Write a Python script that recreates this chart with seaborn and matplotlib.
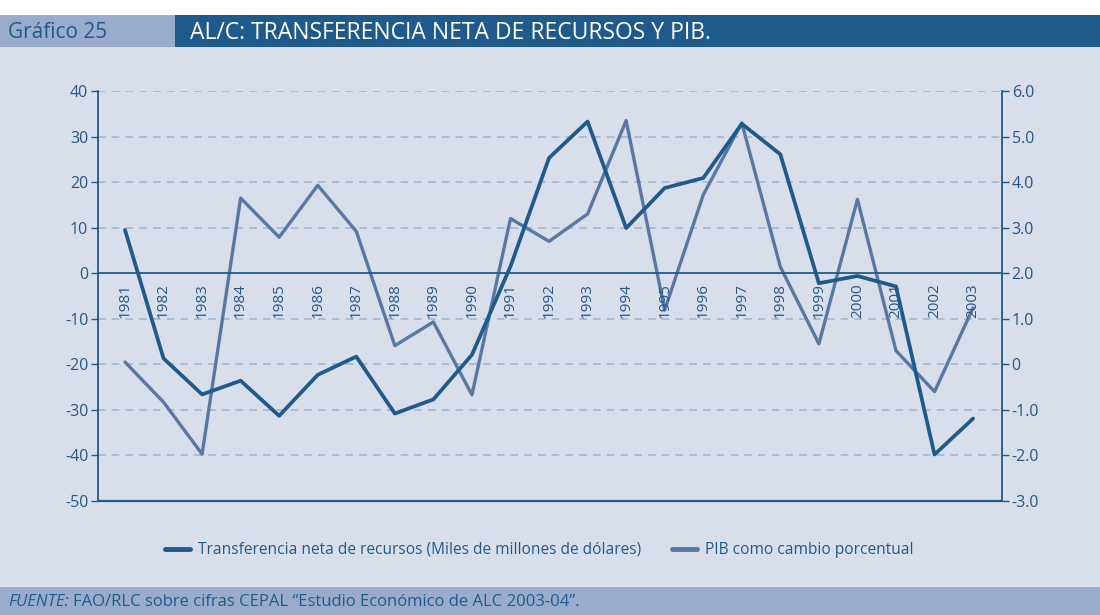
import matplotlib
matplotlib.use('Agg')
import matplotlib.pyplot as plt
import pandas as pd
import seaborn as sns
from matplotlib.lines import Line2D
from matplotlib.patches import Rectangle
from matplotlib.ticker import FuncFormatter

# Data
years = ['1981', '1982', '1983', '1984', '1985', '1986', '1987', '1988', '1989', '1990', '1991', '1992',
         '1993', '1994', '1995', '1996', '1997', '1998', '1999', '2000', '2001', '2002', '2003']
transferencia = [9.5, -18.7, -26.6, -23.6, -31.3, -22.3, -18.3, -30.8, -27.7, -17.9, 1.5, 25.3,
                 33.3, 9.9, 18.7, 20.9, 32.8, 26.1, -2.2, -0.6, -2.9, -39.8, -31.9]
pib = [0.05, -0.83, -1.97, 3.65, 2.79, 3.93, 2.92, 0.41, 0.93, -0.67, 3.2, 2.7,
       3.3, 5.35, 1.19, 3.72, 5.3, 2.14, 0.45, 3.62, 0.3, -0.6, 1.24]
left_ticks = [40, 30, 20, 10, 0, -10, -20, -30, -40, -50]
right_ticks = [6, 5, 4, 3, 2, 1, 0, -1, -2, -3]

label_transf = 'Transferencia neta de recursos (Miles de millones de dólares)'
label_pib = 'PIB como cambio porcentual'

df = pd.DataFrame({'x': range(len(years)), 'transf': transferencia, 'pib': pib})

dark = '#1f5a8c'
light = '#5878a4'
bg = '#d9dfea'
band = '#9aaccc'
txt = '#24568a'
grid_c = '#9fb1d2'

sns.set_style('white')
plt.rcParams['font.family'] = ['Open Sans', 'DejaVu Sans']
plt.rcParams['axes.unicode_minus'] = False

fig = plt.figure(figsize=(11, 6.15), dpi=100)
fig.patch.set_facecolor(bg)

# header bands
fig.patches.append(Rectangle((0, 1 - 15 / 615), 1, 15 / 615, transform=fig.transFigure,
                             facecolor='white', edgecolor='none', zorder=0))
fig.patches.append(Rectangle((0, 1 - 47 / 615), 175 / 1100, 32 / 615, transform=fig.transFigure,
                             facecolor=band, edgecolor='none', zorder=0))
fig.patches.append(Rectangle((175 / 1100, 1 - 47 / 615), 1 - 175 / 1100, 32 / 615, transform=fig.transFigure,
                             facecolor=dark, edgecolor='none', zorder=0))
# footer band
fig.patches.append(Rectangle((0, 0), 1, 28 / 615, transform=fig.transFigure,
                             facecolor=band, edgecolor='none', zorder=0))

fig.text(8 / 1100, 1 - 33 / 615, 'Gráfico 25', color=dark, fontsize=15, va='center')
fig.text(190 / 1100, 1 - 33 / 615, 'AL/C: TRANSFERENCIA NETA DE RECURSOS Y PIB.', color='white',
         fontsize=16.5, va='center')

ax = fig.add_axes([98 / 1100, 114 / 615, 904 / 1100, 410 / 615])
ax.set_facecolor(bg)
ax2 = ax.twinx()

sns.lineplot(data=df, x='x', y='transf', ax=ax, color=dark, linewidth=2.7, zorder=4)
sns.lineplot(data=df, x='x', y='pib', ax=ax2, color=light, linewidth=2.4, zorder=3)
ax.set_zorder(ax2.get_zorder() + 1)
ax.patch.set_visible(False)
ax2.patch.set_visible(True)
ax2.set_facecolor(bg)

ax.set_xlim(-0.7, 22.75)
ax.set_ylim(-50, 40)
ax2.set_ylim(-3, 6)
ax.set_yticks(left_ticks)
ax2.set_yticks(right_ticks)
ax2.yaxis.set_major_formatter(FuncFormatter(lambda v, p: '0' if v == 0 else f'{v:.1f}'))

# dashed grid
for t in left_ticks:
    if t not in (0, -50):
        ax2.axhline(t / 10 + 2, color=grid_c, linestyle=(0, (5, 4)), linewidth=1.1, zorder=1)

# x axis at zero with year labels
ax.spines['bottom'].set_position(('data', 0))
ax.spines['bottom'].set_color(dark)
ax.spines['bottom'].set_linewidth(1.3)
ax.set_xticks(range(len(years)))
ax.set_xticklabels(years, rotation=90)
ax.axhline(-50, color=dark, linewidth=1.6, clip_on=False)
ax.tick_params(axis='x', direction='out', length=5, width=1, color=dark, labelcolor=txt,
               labelsize=11, pad=2)
ax.tick_params(axis='y', direction='out', length=5, width=1, color=dark, labelcolor=txt,
               labelsize=11.5, pad=2)
ax2.tick_params(axis='y', direction='out', length=5, width=1, color=dark, labelcolor=txt,
                labelsize=11.5, pad=2)

for a in (ax, ax2):
    a.spines['top'].set_visible(False)
    a.spines['left'].set_color(dark)
    a.spines['right'].set_color(dark)
    a.spines['left'].set_linewidth(1.3)
    a.spines['right'].set_linewidth(1.3)
    a.set_xlabel('')
    a.set_ylabel('')
ax2.spines['bottom'].set_visible(False)
ax2.spines['left'].set_visible(False)
ax.spines['right'].set_visible(False)

handles = [Line2D([], [], color=dark, linewidth=3.5), Line2D([], [], color=light, linewidth=3.5)]
fig.legend(handles, [label_transf, label_pib], loc='center', bbox_to_anchor=(0.49, 1 - 550 / 615),
           ncol=2, frameon=False, handlelength=1.6, columnspacing=2.0, handletextpad=0.5,
           prop={'size': 11.2}, labelcolor=dark)

t1 = fig.text(8 / 1100, 13 / 615, 'FUENTE:', color=dark, fontsize=12, style='italic', va='center')
fig.canvas.draw()
bb = t1.get_window_extent()
fig.text((bb.x1 + 4) / 1100, 13 / 615, 'FAO/RLC sobre cifras CEPAL \u201cEstudio Económico de ALC 2003-04\u201d.',
         color=dark, fontsize=12, va='center')

fig.savefig('out.png', dpi=100, facecolor=fig.get_facecolor())
